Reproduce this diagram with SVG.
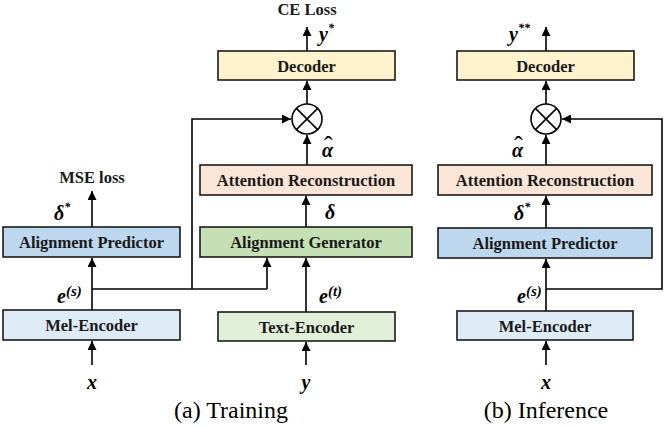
<svg xmlns="http://www.w3.org/2000/svg" width="665" height="428" viewBox="0 0 665 428">
<defs>
<marker id="ah" viewBox="0 0 10 10" refX="10" refY="5" markerWidth="9" markerHeight="9" markerUnits="userSpaceOnUse" orient="auto">
<path d="M0,0 L10,5 L0,10 z" fill="#000"/>
</marker>
</defs>
<rect width="665" height="428" fill="#fff"/>

<g id="connectors" stroke="#000" stroke-width="1.6" fill="none">
<g marker-end="url(#ah)">
<line x1="92" y1="365" x2="92" y2="341"/>
<line x1="92" y1="310" x2="92" y2="258"/>
<line x1="92" y1="227" x2="92" y2="191"/>
<line x1="267" y1="289" x2="267" y2="258"/>
<polyline points="192,289 192,119 291,119"/>
<line x1="306" y1="365" x2="306" y2="342"/>
<line x1="306" y1="312" x2="306" y2="258"/>
<line x1="306" y1="227" x2="306" y2="196"/>
<line x1="307" y1="165" x2="307" y2="135"/>
<line x1="307" y1="104" x2="307" y2="81"/>
<line x1="307" y1="51" x2="307" y2="27"/>
<line x1="546" y1="365" x2="546" y2="341"/>
<line x1="546" y1="311" x2="546" y2="259"/>
<line x1="546" y1="228" x2="546" y2="196"/>
<line x1="546" y1="165" x2="546" y2="135"/>
<line x1="546" y1="104" x2="546" y2="81"/>
<line x1="546" y1="51" x2="546" y2="27"/>
<polyline points="546,289 662,289 662,119 562,119"/>
</g>
<polyline points="92,289 267,289"/>
</g>

<g id="mel-encoder-a">
<rect x="3" y="310" width="177" height="30" fill="#deebf7" stroke="#1a1a1a" stroke-width="1.6"/>
<text font-family="Liberation Serif" font-weight="bold" font-size="16.5" text-anchor="middle" fill="#1a1a1a" x="91.5" y="331">Mel-Encoder</text>
</g>
<g id="alignment-predictor-a">
<rect x="3" y="227" width="177" height="30" fill="#bdd7ee" stroke="#1a1a1a" stroke-width="1.6"/>
<text font-family="Liberation Serif" font-weight="bold" font-size="16.5" text-anchor="middle" fill="#1a1a1a" x="91.5" y="248">Alignment Predictor</text>
</g>
<g id="text-encoder">
<rect x="218" y="312" width="177" height="29" fill="#e2f0d9" stroke="#1a1a1a" stroke-width="1.6"/>
<text font-family="Liberation Serif" font-weight="bold" font-size="16.5" text-anchor="middle" fill="#1a1a1a" x="306.5" y="332.5">Text-Encoder</text>
</g>
<g id="alignment-generator">
<rect x="200" y="227" width="212" height="30" fill="#c5e0b4" stroke="#1a1a1a" stroke-width="1.6"/>
<text font-family="Liberation Serif" font-weight="bold" font-size="16.5" text-anchor="middle" fill="#1a1a1a" x="306" y="248">Alignment Generator</text>
</g>
<g id="attention-reconstruction-a">
<rect x="200" y="165" width="212" height="30" fill="#fbe5d6" stroke="#1a1a1a" stroke-width="1.6"/>
<text font-family="Liberation Serif" font-weight="bold" font-size="16.5" text-anchor="middle" fill="#1a1a1a" x="306" y="186">Attention Reconstruction</text>
</g>
<g id="multiply-a" stroke="#000" stroke-width="1.6">
<circle cx="307" cy="119" r="15" fill="#fff"/>
<path fill="none" d="M296.4,108.4 L317.6,129.6 M317.6,108.4 L296.4,129.6"/>
</g>
<g id="decoder-a">
<rect x="218" y="51" width="177" height="29" fill="#fff2cc" stroke="#1a1a1a" stroke-width="1.6"/>
<text font-family="Liberation Serif" font-weight="bold" font-size="16.5" text-anchor="middle" fill="#1a1a1a" x="306.5" y="71.5">Decoder</text>
</g>

<g id="mel-encoder-b">
<rect x="457" y="311" width="176" height="29" fill="#deebf7" stroke="#1a1a1a" stroke-width="1.6"/>
<text font-family="Liberation Serif" font-weight="bold" font-size="16.5" text-anchor="middle" fill="#1a1a1a" x="545" y="331.5">Mel-Encoder</text>
</g>
<g id="alignment-predictor-b">
<rect x="438" y="228" width="214" height="30" fill="#bdd7ee" stroke="#1a1a1a" stroke-width="1.6"/>
<text font-family="Liberation Serif" font-weight="bold" font-size="16.5" text-anchor="middle" fill="#1a1a1a" x="545" y="249">Alignment Predictor</text>
</g>
<g id="attention-reconstruction-b">
<rect x="438" y="165" width="214" height="30" fill="#fbe5d6" stroke="#1a1a1a" stroke-width="1.6"/>
<text font-family="Liberation Serif" font-weight="bold" font-size="16.5" text-anchor="middle" fill="#1a1a1a" x="545" y="186">Attention Reconstruction</text>
</g>
<g id="multiply-b" stroke="#000" stroke-width="1.6">
<circle cx="546" cy="119" r="15" fill="#fff"/>
<path fill="none" d="M535.4,108.4 L556.6,129.6 M556.6,108.4 L535.4,129.6"/>
</g>
<g id="decoder-b">
<rect x="457" y="51" width="177" height="29" fill="#fff2cc" stroke="#1a1a1a" stroke-width="1.6"/>
<text font-family="Liberation Serif" font-weight="bold" font-size="16.5" text-anchor="middle" fill="#1a1a1a" x="545.5" y="71.5">Decoder</text>
</g>

<g id="labels">
<text font-family="Liberation Serif" font-weight="bold" font-size="16.5" text-anchor="middle" fill="#1a1a1a" x="307" y="15">CE Loss</text>
<text font-family="Liberation Serif" font-weight="bold" font-size="16.5" text-anchor="middle" fill="#1a1a1a" x="92" y="183">MSE loss</text>
<text font-family="Liberation Serif" font-weight="bold" font-style="italic" font-size="20" x="319" y="41">y<tspan font-size="12" dy="-9">*</tspan></text>
<text font-family="Liberation Serif" font-weight="bold" font-style="italic" font-size="20" x="509" y="41">y<tspan font-size="12" dy="-9">**</tspan></text>
<text font-family="Liberation Serif" font-weight="bold" font-style="italic" font-size="20" x="322" y="157">α<tspan x="324" dy="-3" font-style="normal" font-weight="normal" font-size="26">ˆ</tspan></text>
<text font-family="Liberation Serif" font-weight="bold" font-style="italic" font-size="20" x="512" y="157">α<tspan x="514" dy="-3" font-style="normal" font-weight="normal" font-size="26">ˆ</tspan></text>
<text font-family="Liberation Serif" font-weight="bold" font-style="italic" font-size="20" x="325" y="219">δ</text>
<text font-family="Liberation Serif" font-weight="bold" font-style="italic" font-size="20" x="54" y="220">δ<tspan font-size="12" dy="-9">*</tspan></text>
<text font-family="Liberation Serif" font-weight="bold" font-style="italic" font-size="20" x="514" y="220">δ<tspan font-size="12" dy="-9">*</tspan></text>
<text font-family="Liberation Serif" font-weight="bold" font-style="italic" font-size="20" x="57" y="303">e<tspan font-size="15" dy="-7">(s)</tspan></text>
<text font-family="Liberation Serif" font-weight="bold" font-style="italic" font-size="20" x="517" y="303">e<tspan font-size="15" dy="-7">(s)</tspan></text>
<text font-family="Liberation Serif" font-weight="bold" font-style="italic" font-size="20" x="319" y="303">e<tspan font-size="15" dy="-7">(t)</tspan></text>
<text font-family="Liberation Serif" font-weight="bold" font-style="italic" font-size="20" text-anchor="middle" x="92" y="389">x</text>
<text font-family="Liberation Serif" font-weight="bold" font-style="italic" font-size="20" text-anchor="middle" x="306" y="389">y</text>
<text font-family="Liberation Serif" font-weight="bold" font-style="italic" font-size="20" text-anchor="middle" x="546" y="389">x</text>
<text font-family="Liberation Serif" font-size="24" text-anchor="middle" x="231" y="418">(a) Training</text>
<text font-family="Liberation Serif" font-size="24" text-anchor="middle" x="546" y="418">(b) Inference</text>
</g>
</svg>
